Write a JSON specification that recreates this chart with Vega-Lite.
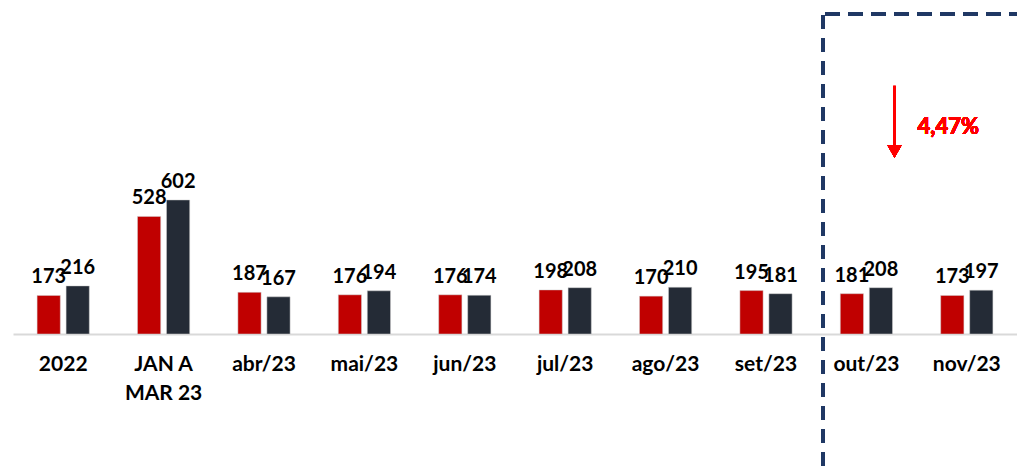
{
  "$schema": "https://vega.github.io/schema/vega-lite/v6.json",
  "autosize": "none",
  "width": 1004,
  "height": 334,
  "padding": {"left": 13, "top": 0, "right": 0, "bottom": 133},
  "background": "white",
  "config": {"view": {"stroke": null}, "font": "Lato"},
  "data": {"values": [
    {"cat": "2022", "serie": "A", "value": 173},
    {"cat": "2022", "serie": "B", "value": 216},
    {"cat": "JAN A MAR 23", "serie": "A", "value": 528},
    {"cat": "JAN A MAR 23", "serie": "B", "value": 602},
    {"cat": "abr/23", "serie": "A", "value": 187},
    {"cat": "abr/23", "serie": "B", "value": 167},
    {"cat": "mai/23", "serie": "A", "value": 176},
    {"cat": "mai/23", "serie": "B", "value": 194},
    {"cat": "jun/23", "serie": "A", "value": 176},
    {"cat": "jun/23", "serie": "B", "value": 174},
    {"cat": "jul/23", "serie": "A", "value": 198},
    {"cat": "jul/23", "serie": "B", "value": 208},
    {"cat": "ago/23", "serie": "A", "value": 170},
    {"cat": "ago/23", "serie": "B", "value": 210},
    {"cat": "set/23", "serie": "A", "value": 195},
    {"cat": "set/23", "serie": "B", "value": 181},
    {"cat": "out/23", "serie": "A", "value": 181},
    {"cat": "out/23", "serie": "B", "value": 208},
    {"cat": "nov/23", "serie": "A", "value": 173},
    {"cat": "nov/23", "serie": "B", "value": 197}
  ]},
  "resolve": {"scale": {"x": "independent"}},
  "layer": [
    {
      "encoding": {
        "x": {"field": "cat", "type": "nominal", "sort": null,
          "scale": {"paddingInner": 0.48, "paddingOuter": 0.24},
          "axis": {"title": null, "ticks": false, "domainColor": "#d9d9d9", "domainWidth": 2,
            "labelFontSize": 21, "labelFontWeight": "bold", "labelColor": "#000000", "labelFont": "Lato",
            "labelPadding": 19, "labelLineHeight": 29, "labelAngle": 0,
            "labelExpr": "datum.value == 'JAN A MAR 23' ? ['JAN A', 'MAR 23'] : datum.value"}},
        "xOffset": {"field": "serie", "type": "nominal", "scale": {"paddingInner": 0.2, "paddingOuter": 0}},
        "y": {"field": "value", "type": "quantitative", "scale": {"domain": [0, 1500], "nice": false, "zero": true}, "axis": null}
      },
      "layer": [
        {
          "mark": {"type": "bar", "stroke": "#d0d0d0", "strokeWidth": 0.5},
          "encoding": {
            "color": {"field": "serie", "type": "nominal", "scale": {"domain": ["A", "B"], "range": ["#c00000", "#242b36"]}, "legend": null}
          }
        },
        {
          "mark": {"type": "text", "baseline": "bottom", "dy": -8, "fontSize": 20, "fontWeight": "bold", "font": "Lato", "color": "#000000"},
          "encoding": {"text": {"field": "value", "type": "quantitative"}}
        }
      ]
    },
    {
      "mark": {"type": "rule", "color": "#203864", "strokeWidth": 3.5, "strokeDash": [14, 9], "clip": false},
      "encoding": {
        "x": {"datum": 8.07, "type": "quantitative", "scale": {"domain": [0, 10], "nice": false, "zero": false}, "axis": null},
        "y": {"datum": 1433, "type": "quantitative"},
        "y2": {"datum": -620}
      }
    },
    {
      "mark": {"type": "rule", "color": "#203864", "strokeWidth": 3.5, "strokeDash": [14, 9], "clip": false},
      "encoding": {
        "x": {"datum": 8.09, "type": "quantitative", "scale": {"domain": [0, 10], "nice": false, "zero": false}, "axis": null},
        "x2": {"datum": 10.2},
        "y": {"datum": 1437, "type": "quantitative"}
      }
    },
    {
      "mark": {"type": "rule", "color": "#ff0000", "strokeWidth": 2.5},
      "encoding": {
        "x": {"datum": 8.78, "type": "quantitative", "scale": {"domain": [0, 10], "nice": false, "zero": false}, "axis": null},
        "y": {"datum": 1114, "type": "quantitative"},
        "y2": {"datum": 830}
      }
    },
    {
      "mark": {"type": "point", "shape": "triangle-down", "filled": true, "color": "#ff0000", "size": 200, "opacity": 1},
      "encoding": {
        "x": {"datum": 8.78, "type": "quantitative", "scale": {"domain": [0, 10], "nice": false, "zero": false}, "axis": null},
        "y": {"datum": 820, "type": "quantitative"}
      }
    },
    {
      "mark": {"type": "text", "align": "left", "baseline": "middle", "fontSize": 22, "fontWeight": "bold", "font": "Lato", "color": "#ff0000"},
      "encoding": {
        "x": {"datum": 9.01, "type": "quantitative", "scale": {"domain": [0, 10], "nice": false, "zero": false}, "axis": null},
        "y": {"datum": 930, "type": "quantitative"},
        "text": {"value": "4,47%"}
      }
    }
  ]
}
